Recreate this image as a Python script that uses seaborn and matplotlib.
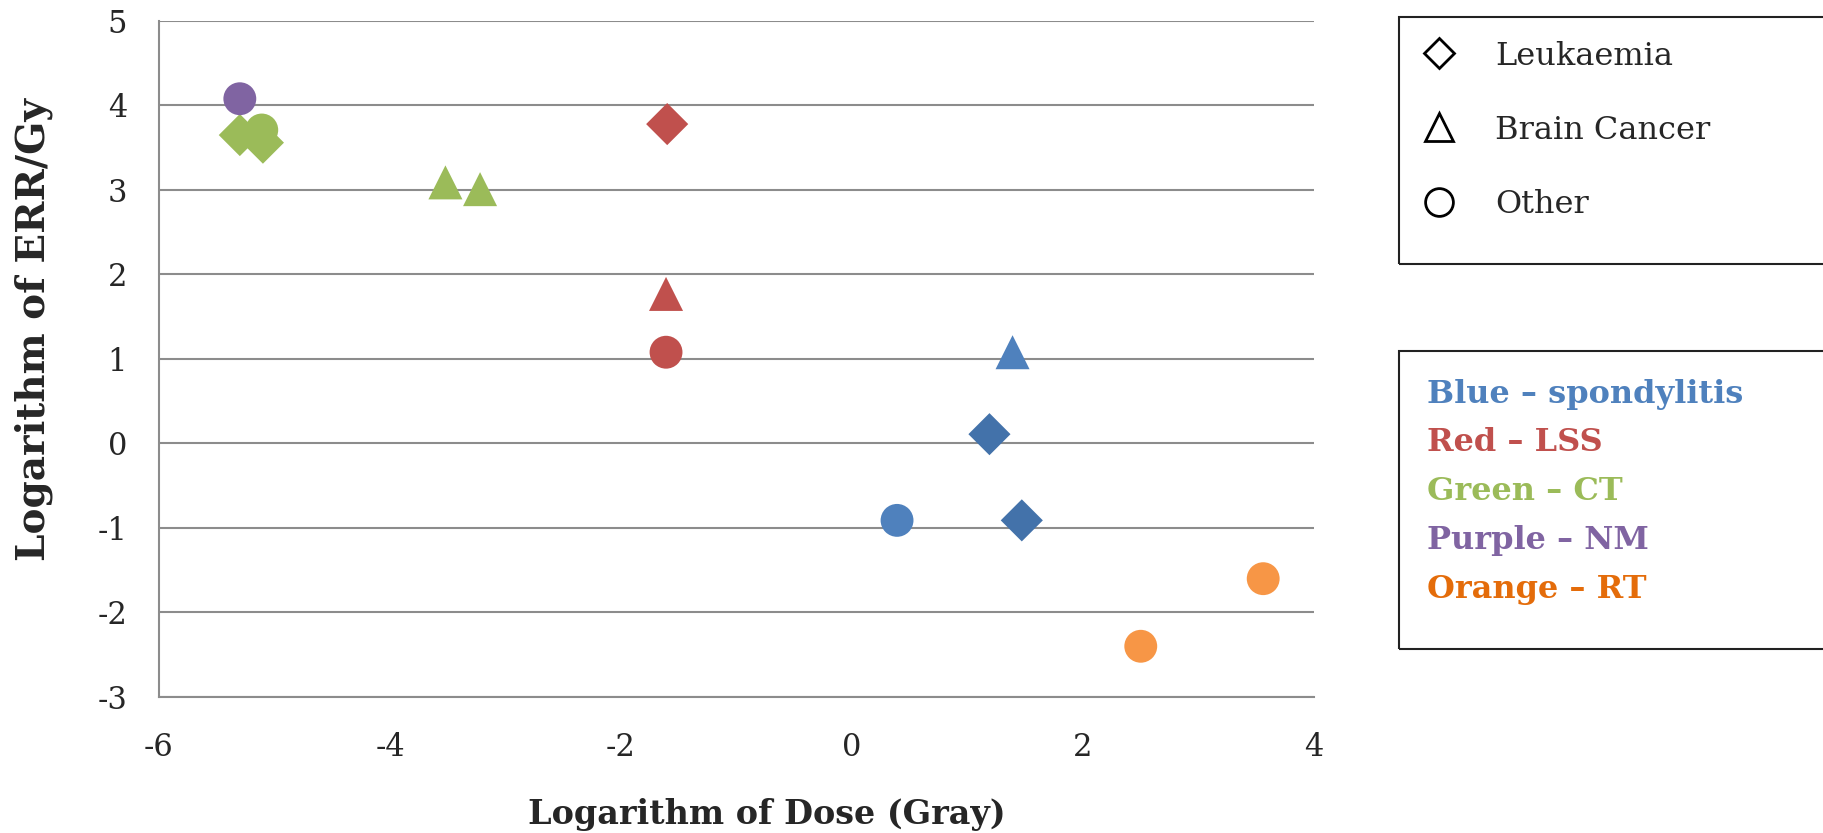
import numpy as np
import pandas as pd
import matplotlib
matplotlib.use("Agg")
import matplotlib.pyplot as plt
from matplotlib.lines import Line2D
from matplotlib.patches import Rectangle
import seaborn as sns

# data
log_dose = [-5.30, -5.11, -5.30, -5.10, -3.52, -3.22,
            -1.60, -1.61, -1.61,
            1.39, 1.19, 1.47, 0.39,
            3.56, 2.50]
log_err = [4.08, 3.71, 3.65, 3.56, 3.09, 3.01,
           3.78, 1.77, 1.08,
           1.08, 0.11, -0.91, -0.91,
           -1.60, -2.40]
study = ["NM", "CT", "CT", "CT", "CT", "CT",
         "LSS", "LSS", "LSS",
         "spondylitis", "spondylitis", "spondylitis", "spondylitis",
         "RT", "RT"]
cancer = ["Other", "Other", "Leukaemia", "Leukaemia", "Brain Cancer", "Brain Cancer",
          "Leukaemia", "Brain Cancer", "Other",
          "Brain Cancer", "Leukaemia", "Leukaemia", "Other",
          "Other", "Other"]

study_colors = {"spondylitis": "#4F81BD", "LSS": "#C0504D", "CT": "#9BBB59",
                "NM": "#8064A2", "RT": "#F79646"}
legend_labels = ["Blue \u2013 spondylitis", "Red \u2013 LSS", "Green \u2013 CT",
                 "Purple \u2013 NM", "Orange \u2013 RT"]
legend_colors = ["#4F81BD", "#C0504D", "#9BBB59", "#8064A2", "#E46C0A"]

df = pd.DataFrame({"dose": log_dose, "err": log_err, "study": study, "cancer": cancer})

sns.set_style("white")
plt.rcParams["font.family"] = ["DejaVu Serif"]
plt.rcParams["axes.unicode_minus"] = False

fig = plt.figure(figsize=(18.23, 8.33), dpi=100)
ax = fig.add_axes([0.0872, 0.1633, 0.6336, 0.8115])

markers = {"Leukaemia": ("D", 460), "Brain Cancer": ("^", 600), "Other": ("o", 560)}
for kind, (mk, size) in markers.items():
    sub = df[df["cancer"] == kind]
    pal = dict(study_colors)
    if kind == "Leukaemia":
        pal["spondylitis"] = "#4372AA"
    sns.scatterplot(data=sub, x="dose", y="err", hue="study", palette=pal,
                    marker=mk, s=size, linewidth=0, ax=ax, legend=False, zorder=3)

ax.set_xlim(-6, 4)
ax.set_ylim(-3, 5)
ax.set_xticks(np.arange(-6, 5, 2))
ax.set_yticks(np.arange(-3, 6, 1))
ax.yaxis.grid(True, color="#8c8c8c", linewidth=1.5)
ax.xaxis.grid(False)
for side in ["top", "right"]:
    ax.spines[side].set_visible(False)
for side in ["left", "bottom"]:
    ax.spines[side].set_color("#8c8c8c")
    ax.spines[side].set_linewidth(1.5)
ax.tick_params(axis="both", direction="out", length=7, width=1.5, color="#8c8c8c",
               labelsize=22)
ax.tick_params(axis="y", pad=16)
ax.tick_params(axis="x", pad=18)
ax.set_xlabel("Logarithm of Dose (Gray)", fontsize=24, fontweight="bold")
ax.set_ylabel("Logarithm of ERR/Gy", fontsize=28, fontweight="bold")
ax.xaxis.set_label_coords(0.526, -0.15)
ax.yaxis.set_label_coords(-0.092, 0.543)

# legend boxes (run off the right edge as in the original)
fig.add_artist(Rectangle((0.7675, 0.683), 0.26, 0.297, transform=fig.transFigure,
                         fill=False, edgecolor="#222222", linewidth=1.5))
fig.add_artist(Rectangle((0.7675, 0.221), 0.26, 0.358, transform=fig.transFigure,
                         fill=False, edgecolor="#222222", linewidth=1.5))

shape_handles = [Line2D([], [], linestyle="none", marker=m, markersize=s,
                        markerfacecolor="white", markeredgecolor="black", markeredgewidth=2)
                 for m, s in [("D", 15), ("^", 20), ("o", 20)]]
fig.legend(shape_handles, ["Leukaemia", "Brain Cancer", "Other"],
           loc="upper left", bbox_to_anchor=(0.758, 0.982), frameon=False,
           fontsize=23, labelspacing=1.35, handletextpad=0.75, borderpad=0.3)

for i, (lab, col) in enumerate(zip(legend_labels, legend_colors)):
    fig.text(0.783, 0.527 - i * 0.0588, lab, color=col, fontsize=23,
             fontweight="bold", va="center", ha="left")

fig.savefig("out.png", dpi=100)
